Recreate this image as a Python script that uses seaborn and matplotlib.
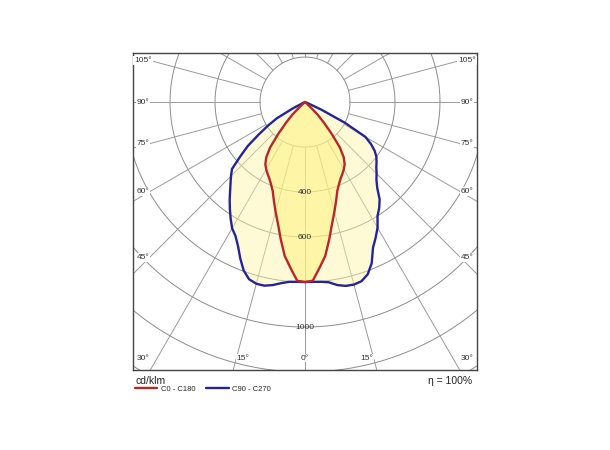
import numpy as np
import pandas as pd
import matplotlib
matplotlib.use("Agg")
import matplotlib.pyplot as plt
import seaborn as sns

# --- DATA (cd/klm, gamma angle measured from nadir) ---
gamma = np.arange(0, 92.5, 2.5)

c0_c180 = [800, 795, 740, 690, 620, 555, 505, 460, 420, 395, 375, 360, 345,
           328, 300, 255, 185, 125, 80, 30, 5,
           0, 0, 0, 0, 0, 0, 0, 0, 0, 0, 0, 0, 0, 0, 0, 0]
c90 = [800, 800, 802, 808, 826, 837, 840, 835, 815, 775, 715, 680, 645,
       600, 575, 545, 500, 470, 450, 430, 415, 400, 378, 348, 310, 200, 80, 15,
       0, 0, 0, 0, 0, 0, 0, 0, 0]
c270 = [800, 800, 802, 812, 826, 836, 836, 826, 797, 752, 705, 670, 648,
        615, 582, 550, 518, 490, 465, 440, 375, 320, 250, 195, 145, 60, 10, 0,
        0, 0, 0, 0, 0, 0, 0, 0, 0]

ring_values = [200, 400, 600, 800, 1000, 1200, 1400]
ring_labels = [400, 600, 1000]
side_angles = [105, 90, 75, 60, 45]
bottom_angles = [30, 15, 0]

RED = "#B8262A"
BLUE = "#25239A"


def half_to_xy(angles, values, side):
    t = np.radians(np.asarray(angles, dtype=float))
    r = np.asarray(values, dtype=float)
    return side * r * np.sin(t), -r * np.cos(t)


def closed_curve(left_vals, right_vals):
    xl, yl = half_to_xy(gamma, left_vals, -1)
    xr, yr = half_to_xy(gamma, right_vals, 1)
    x = np.concatenate([xl[::-1], xr])
    y = np.concatenate([yl[::-1], yr])
    return pd.DataFrame({"x": x, "y": y, "order": np.arange(len(x))})


sns.set_style("white")
plt.rcParams["font.family"] = ["Liberation Sans", "DejaVu Sans"]

fig = plt.figure(figsize=(6.1, 4.5), dpi=100)
ax = fig.add_axes([133 / 610, 80 / 450, 344 / 610, 317 / 450])
ax.set_xlim(-764, 764)
ax.set_ylim(-1191, 218)
ax.set_aspect("equal")

# grid: rings and radial lines
th = np.linspace(0, 2 * np.pi, 400)
for r in ring_values:
    ax.plot(r * np.cos(th), r * np.sin(th), color="#8c8c8c", lw=0.7, zorder=1)
for a in range(0, 360, 15):
    t = np.radians(a)
    ax.plot([200 * np.sin(t), 1600 * np.sin(t)],
            [-200 * np.cos(t), -1600 * np.cos(t)],
            color="#9a9a9a", lw=0.7, zorder=1)

# curves
df_blue = closed_curve(c270, c90)
df_red = closed_curve(c0_c180, c0_c180)

ax.fill(df_blue["x"], df_blue["y"], color="#FFF6A6", alpha=0.45, lw=0, zorder=2)
ax.fill(df_red["x"], df_red["y"], color="#FFF27A", alpha=0.5, lw=0, zorder=2)

sns.lineplot(data=df_blue, x="x", y="y", sort=False, estimator=None,
             color=BLUE, lw=1.7, ax=ax, zorder=3, label="C90 - C270")
sns.lineplot(data=df_red, x="x", y="y", sort=False, estimator=None,
             color=RED, lw=1.7, ax=ax, zorder=3, label="C0 - C180")

# ring labels
for r in ring_labels:
    ax.text(0, -r, str(r), ha="center", va="center", fontsize=6,
            color="#333333", zorder=4)

# angle labels
box = dict(facecolor="white", edgecolor="none", pad=0.6)
for a in side_angles:
    y = -690 / np.tan(np.radians(a)) if a != 90 else 0
    for s in (-1, 1):
        ax.text(s * 720, y, f"{a}°", ha="center", va="center", fontsize=6,
                color="#333333", bbox=box, zorder=4)
for a in bottom_angles:
    if a == 30:
        xs = [-720, 720]
    elif a == 0:
        xs = [0]
    else:
        x0 = 1138 * np.tan(np.radians(a)) - 30
        xs = [-x0, x0]
    for x in xs:
        ax.text(x, -1138, f"{a}°", ha="center", va="center", fontsize=6,
                color="#333333", bbox=box, zorder=4)

ax.set_xticks([])
ax.set_yticks([])
ax.set_xlabel("")
ax.set_ylabel("")
for sp in ax.spines.values():
    sp.set_visible(True)
    sp.set_color("#444444")
    sp.set_linewidth(1.0)

# legend / footer
handles, labels = ax.get_legend_handles_labels()
ax.get_legend().remove()
fig.legend(handles[::-1], labels[::-1], loc="upper left", ncol=2,
           bbox_to_anchor=(133 / 610, 1 - 383 / 450), frameon=False,
           fontsize=5.5, handlelength=2.9, columnspacing=1.4, handletextpad=0.5,
           borderaxespad=0, borderpad=0.3)
fig.text(135 / 610, 1 - 381 / 450, "cd/klm", ha="left", va="center",
         fontsize=7.5, color="#222222")
fig.text(472 / 610, 1 - 381 / 450, "η = 100%", ha="right", va="center",
         fontsize=7.5, color="#222222")

fig.savefig("out.png", dpi=100, facecolor="white")
